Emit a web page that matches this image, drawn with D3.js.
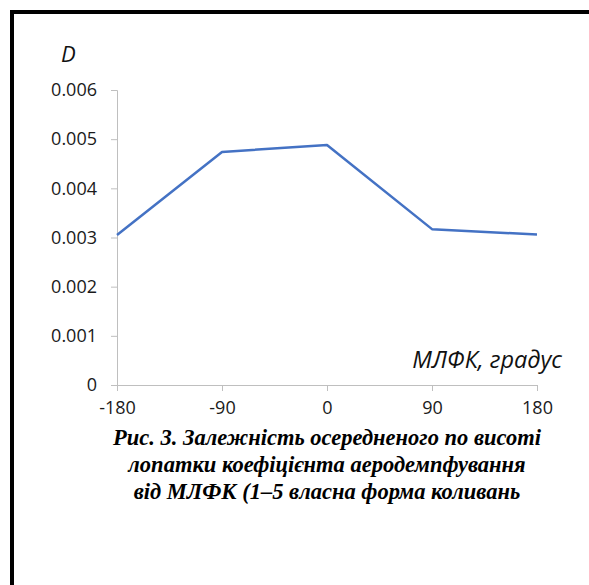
<!DOCTYPE html>
<html>
<head>
<meta charset="utf-8">
<script src="https://cdn.jsdelivr.net/npm/d3@7"></script>
<style>
  body { margin: 0; background: #fff; }
  svg { display: block; }
</style>
</head>
<body>
<svg id="chart"></svg>
<script>
const angles = [-180, -90, 0, 90, 180];
const damping = [0.00305, 0.00474, 0.00488, 0.00317, 0.00306];
const xTicks = [-180, -90, 0, 90, 180];
const yTicks = [0, 0.001, 0.002, 0.003, 0.004, 0.005, 0.006];
const captionLines = [
    "Рис. 3. Залежність осередненого по висоті",
    "лопатки коефіцієнта аеродемпфування",
    "від МЛФК (1–5 власна форма коливань"
];

const svgWidth = 589;
const svgHeight = 585;

const svg = d3.select("#chart")
    .attr("width", svgWidth)
    .attr("height", svgHeight)
    .style("font-family", "'Open Sans', sans-serif");

// frame (top and left edges only)
svg.append("rect").attr("x", 10).attr("y", 10).attr("width", svgWidth - 10).attr("height", 4).attr("fill", "#000");
svg.append("rect").attr("x", 10).attr("y", 10).attr("width", 4).attr("height", svgHeight - 10).attr("fill", "#000");

const xScale = d3.scaleLinear().domain([-180, 180]).range([117, 537]);
const yScale = d3.scaleLinear().domain([0, 0.006]).range([385, 90]);

const axisColor = "#bfbfbf";

const xAxis = svg.append("g")
    .attr("transform", `translate(0,${yScale(0)})`)
    .call(d3.axisBottom(xScale).tickValues(xTicks).tickSize(6).tickPadding(10).tickFormat(d => String(d)));

const yAxis = svg.append("g")
    .attr("transform", `translate(${xScale(-180)},0)`)
    .call(d3.axisLeft(yScale).tickValues(yTicks).tickSize(6).tickPadding(14)
        .tickFormat(d => d === 0 ? "0" : d3.format(".3f")(d)));

[xAxis, yAxis].forEach(a => {
    a.select(".domain").attr("stroke", axisColor);
    a.selectAll(".tick line").attr("stroke", axisColor);
    a.selectAll(".tick text")
        .attr("fill", "#1a1a1a")
        .style("font-size", "18px")
        .style("font-family", "'Open Sans', sans-serif");
});

const line = d3.line()
    .x((d, i) => xScale(angles[i]))
    .y(d => yScale(d));

svg.append("path")
    .datum(damping)
    .attr("fill", "none")
    .attr("stroke", "#4472C4")
    .attr("stroke-width", 2.5)
    .attr("stroke-linejoin", "round")
    .attr("d", line);

// axis titles
svg.append("text")
    .attr("x", 61)
    .attr("y", 62)
    .style("font-style", "italic")
    .style("font-size", "22px")
    .attr("fill", "#111")
    .text("D");

svg.append("text")
    .attr("x", 562)
    .attr("y", 368)
    .attr("text-anchor", "end")
    .style("font-style", "italic")
    .style("font-size", "23.5px")
    .attr("fill", "#111")
    .text("МЛФК, градус");

// caption
svg.append("g")
    .selectAll("text")
    .data(captionLines)
    .enter().append("text")
    .attr("x", 327)
    .attr("y", (d, i) => 445 + i * 27)
    .attr("text-anchor", "middle")
    .style("font-family", "'Liberation Serif', 'Times New Roman', serif")
    .style("font-weight", "bold")
    .style("font-style", "italic")
    .style("font-size", "22.5px")
    .attr("fill", "#000")
    .text(d => d);
</script>
</body>
</html>
